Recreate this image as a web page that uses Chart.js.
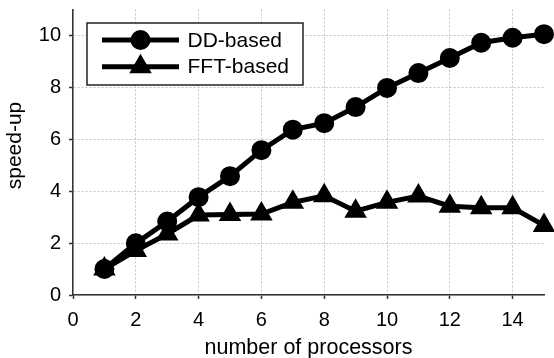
<!DOCTYPE html>
<html>
<head>
<meta charset="utf-8">
<script src="https://cdn.jsdelivr.net/npm/chart.js@4.4.1/dist/chart.umd.min.js"></script>
<style>
  html, body { margin: 0; padding: 0; background: #fff; }
  #wrap { width: 554px; height: 358px; position: relative; }
</style>
</head>
<body>
<div id="wrap"><canvas id="c"></canvas></div>
<script>
// ---- data ----
const processors = [1, 2, 3, 4, 5, 6, 7, 8, 9, 10, 11, 12, 13, 14, 15];
const ddSpeedup  = [1.0, 1.99, 2.83, 3.77, 4.58, 5.58, 6.37, 6.62, 7.24, 7.98, 8.55, 9.13, 9.72, 9.91, 10.05];
const fftSpeedup = [1.0, 1.71, 2.35, 3.08, 3.1, 3.12, 3.57, 3.82, 3.23, 3.57, 3.81, 3.42, 3.36, 3.36, 2.68];
const seriesNames = ['DD-based', 'FFT-based'];
const xTitle = 'number of processors';
const yTitle = 'speed-up';
const xRange = [0, 15];
const yRange = [0, 11];
const tickStep = 2;

const FONT = '"Liberation Sans", Arial, Helvetica, sans-serif';

const toPoints = (xs, ys) => xs.map((x, i) => ({ x: x, y: ys[i] }));

const extras = {
  id: 'extras',
  afterDraw(chart) {
    const ctx = chart.ctx;
    ctx.save();
    // y-axis title
    ctx.fillStyle = '#000';
    ctx.font = '21px ' + FONT;
    ctx.textAlign = 'center';
    ctx.textBaseline = 'middle';
    ctx.translate(15, 145.5);
    ctx.rotate(-Math.PI / 2);
    ctx.fillText(yTitle, 0, 0);
    ctx.restore();

    // legend inside plot
    ctx.save();
    const bx = 87, by = 23, bw = 216, bh = 62;
    ctx.fillStyle = '#fff';
    ctx.fillRect(bx, by, bw, bh);
    ctx.strokeStyle = '#222';
    ctx.lineWidth = 1.5;
    ctx.strokeRect(bx, by, bw, bh);
    const rows = [40, 66.7];
    chart.data.datasets.forEach((ds, i) => {
      const y = rows[i];
      ctx.strokeStyle = '#000';
      ctx.lineWidth = 5;
      ctx.beginPath();
      ctx.moveTo(102, y);
      ctx.lineTo(179, y);
      ctx.stroke();
      ctx.fillStyle = '#000';
      ctx.strokeStyle = '#000';
      ctx.lineWidth = 2;
      Chart.helpers.drawPoint(ctx, {
        pointStyle: ds.pointStyle,
        radius: ds.pointRadius,
        borderWidth: 2,
        rotation: 0
      }, 140.5, y);
      ctx.fillStyle = '#000';
      ctx.font = '21px ' + FONT;
      ctx.textAlign = 'left';
      ctx.textBaseline = 'middle';
      ctx.fillText(ds.label, 187.5, y + 1);
    });
    ctx.restore();
  }
};

const gridCommon = {
  color: '#c4c4c4',
  lineWidth: 1,
  drawTicks: true,
  tickLength: 4,
  tickColor: '#333',
  tickWidth: 1.5,
  tickBorderDash: []
};

const zeroPad = s => {
  s.paddingLeft = 0; s.paddingRight = 0; s.paddingTop = 0; s.paddingBottom = 0;
};

new Chart(document.getElementById('c'), {
  type: 'line',
  data: {
    datasets: [
      {
        label: seriesNames[0],
        data: toPoints(processors, ddSpeedup),
        borderColor: '#000',
        backgroundColor: '#000',
        borderWidth: 5,
        pointStyle: 'circle',
        pointRadius: 9,
        pointBorderWidth: 2,
        pointBackgroundColor: '#000',
        pointBorderColor: '#000',
        tension: 0,
        clip: false
      },
      {
        label: seriesNames[1],
        data: toPoints(processors, fftSpeedup),
        borderColor: '#000',
        backgroundColor: '#000',
        borderWidth: 5,
        pointStyle: 'triangle',
        pointRadius: 11,
        pointBorderWidth: 2,
        pointBackgroundColor: '#000',
        pointBorderColor: '#000',
        tension: 0,
        clip: false
      }
    ]
  },
  options: {
    responsive: true,
    maintainAspectRatio: false,
    animation: false,
    layout: { autoPadding: false, padding: { top: 9.5, right: 10, left: 0, bottom: 0 } },
    plugins: {
      legend: { display: false },
      tooltip: { enabled: false }
    },
    scales: {
      x: {
        type: 'linear',
        min: xRange[0],
        max: xRange[1],
        afterFit: s => { s.height = 63; zeroPad(s); },
        ticks: {
          stepSize: tickStep,
          includeBounds: false,
          color: '#000',
          font: { family: FONT, size: 20 },
          padding: 9,
          maxRotation: 0
        },
        grid: gridCommon,
        border: { display: true, color: '#333', width: 1.5, dash: [2, 2] },
        title: {
          display: true,
          text: xTitle,
          color: '#000',
          font: { family: FONT, size: 21.5 },
          padding: { top: 0, bottom: -3 }
        }
      },
      y: {
        type: 'linear',
        min: yRange[0],
        max: yRange[1],
        afterFit: s => { s.width = 73; zeroPad(s); },
        ticks: {
          stepSize: tickStep,
          includeBounds: false,
          color: '#000',
          font: { family: FONT, size: 20 },
          padding: 8
        },
        grid: gridCommon,
        border: { display: true, color: '#333', width: 1.5, dash: [2, 2] },
        title: { display: false }
      }
    }
  },
  plugins: [extras]
});
</script>
</body>
</html>
